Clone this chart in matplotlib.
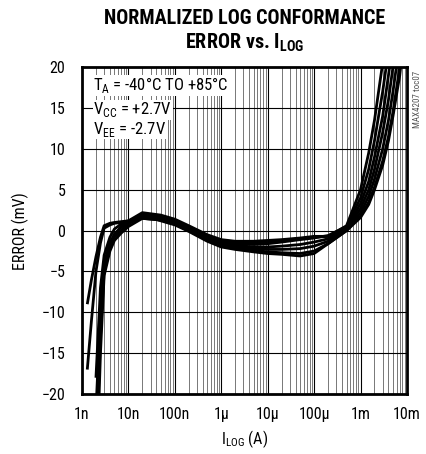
import numpy as np
import matplotlib
matplotlib.use("Agg")
import matplotlib.pyplot as plt
from matplotlib.ticker import LogLocator, NullFormatter

plt.rcParams['font.family'] = ['Roboto Condensed', 'DejaVu Sans']
plt.rcParams['mathtext.fontset'] = 'custom'
plt.rcParams['mathtext.rm'] = 'Roboto Condensed'
plt.rcParams['mathtext.bf'] = 'Roboto Condensed:bold'

nan = np.nan

# current (A)
i_log = [1.3e-9, 1.6e-9, 2e-9, 2.5e-9, 3e-9, 4e-9, 5e-9, 7e-9, 1e-8, 2e-8, 5e-8,
         1e-7, 2e-7, 5e-7, 1e-6, 2e-6, 5e-6, 1e-5, 2e-5, 5e-5, 1e-4, 2e-4, 5e-4,
         1e-3, 1.5e-3, 2e-3, 3e-3, 4e-3, 5e-3, 7e-3, 1e-2]

# error (mV), one list per measured part/temperature
err_1 = [-17, -11, -5, -1.5, 0.3, 0.7, 0.9, 1.0, 1.1, 1.5, 1.3, 0.9, 0.2, -0.9, -1.4, -1.6,
         -1.7, -1.6, -1.4, -1.1, -0.9, -0.6, 0.5, 4, 7.5, 11, 17, 22, 27, 35, 45]
err_2 = [-9, -6, -3.2, -0.8, 0.6, 0.9, 1.0, 1.1, 1.2, 1.7, 1.5, 1.1, 0.4, -0.7, -1.2, -1.4,
         -1.5, -1.4, -1.2, -1.0, -0.8, -0.7, 0.6, 5, 9.5, 13.5, 20.5, 27, 32, 40, 50]
err_3 = [nan, nan, -18, -7, -3, -0.8, 0.2, 0.8, 1.2, 2.2, 1.9, 1.4, 0.6, -0.5, -1.1, -1.3,
         -1.3, -1.2, -1.1, -0.9, -0.7, -0.7, 0.3, 3.3, 6, 9, 14, 19, 23, 30, 40]
err_4 = [nan, nan, -22, -10, -4, -1.5, -0.4, 0.4, 1.0, 2.0, 1.7, 1.2, 0.4, -0.8, -1.5, -1.8,
         -2.0, -2.0, -1.9, -1.7, -1.4, -1.0, 0.2, 2.7, 5, 7.5, 12, 16, 20, 27, 35]
err_5 = [nan, nan, -28, -13, -5, -2, -0.8, 0, 0.8, 1.8, 1.5, 1.0, 0.2, -1.0, -1.7, -2.0,
         -2.2, -2.3, -2.3, -2.2, -1.9, -1.3, 0.1, 2.2, 4.2, 6.3, 10, 13.5, 17, 23, 31]
err_6 = [nan, nan, -32, -15, -5.5, -2.5, -1.2, -0.3, 0.5, 1.5, 1.3, 0.8, 0.0, -1.2, -1.9, -2.2,
         -2.4, -2.6, -2.7, -2.8, -2.5, -1.6, 0.0, 1.8, 3.5, 5.3, 8.5, 11.5, 14.5, 20, 27]
err_7 = [nan, nan, -25, -11, -4.5, -1.8, -0.6, 0.5, 1.1, 1.9, 1.2, 0.7, -0.1, -1.3, -2.0, -2.3,
         -2.6, -2.8, -2.9, -3.1, -2.8, -1.6, 0.0, 1.6, 3.2, 5, 8, 11, 14, 19, 27]
curves = [err_1, err_2, err_3, err_4, err_5, err_6, err_7]

x_ticks = [1e-9, 1e-8, 1e-7, 1e-6, 1e-5, 1e-4, 1e-3, 1e-2]
x_labels = ['1n', '10n', '100n', '1\u03bc', '10\u03bc', '100\u03bc', '1m', '10m']
y_ticks = [-20, -15, -10, -5, 0, 5, 10, 15, 20]

fig = plt.figure(figsize=(4.27, 4.54), dpi=100)
ax = fig.add_axes([0.192, 0.132, 0.761, 0.720])

for c in curves:
    ax.plot(i_log, c, color='black', lw=2.0, solid_capstyle='butt', zorder=3)

ax.set_xscale('log')
ax.set_xlim(1e-9, 1e-2)
ax.set_ylim(-20, 20)
ax.set_xticks(x_ticks)
ax.set_xticklabels(x_labels)
ax.xaxis.set_minor_locator(LogLocator(base=10, subs=np.arange(2, 10), numticks=30))
ax.xaxis.set_minor_formatter(NullFormatter())
ax.set_yticks(y_ticks)
ax.tick_params(which='both', length=0, labelsize=11.5)
ax.tick_params(axis='y', pad=12)
ax.tick_params(axis='x', pad=9)

ax.grid(True, which='major', axis='both', color='black', lw=0.8, zorder=1)
ax.grid(True, which='minor', axis='x', color='#777777', lw=0.7, zorder=1)
for s in ax.spines.values():
    s.set_linewidth(2.0)
    s.set_zorder(4)

ax.set_xlabel('I$_\\mathrm{LOG}$ (A)', fontsize=11.5, labelpad=5)
ax.set_ylabel('ERROR (mV)', fontsize=11.5, labelpad=9)

box = dict(facecolor='white', edgecolor='none', pad=0.5)
ax.text(0.035, 0.945, 'T$_\\mathrm{A}$ = -40\u00b0C TO +85\u00b0C', transform=ax.transAxes,
        fontsize=12, va='center', ha='left', bbox=box, zorder=5)
ax.text(0.035, 0.87, 'V$_\\mathrm{CC}$ = +2.7V', transform=ax.transAxes,
        fontsize=12, va='center', ha='left', bbox=box, zorder=5)
ax.text(0.035, 0.81, 'V$_\\mathrm{EE}$ = -2.7V', transform=ax.transAxes,
        fontsize=12, va='center', ha='left', bbox=box, zorder=5)

fig.text(0.573, 0.96, 'NORMALIZED LOG CONFORMANCE', ha='center', va='center',
         fontsize=14.5, fontweight='bold')
fig.text(0.573, 0.905, 'ERROR vs. I$_\\mathbf{LOG}$', ha='center', va='center',
         fontsize=14.5, fontweight='bold')
fig.text(0.978, 0.845, 'MAX4207 toc07', rotation=90, ha='center', va='top',
         fontsize=6.5, color='#555555')

fig.savefig('out.png', dpi=100)
